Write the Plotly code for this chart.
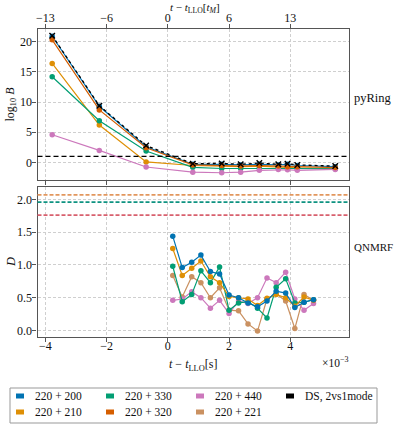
import plotly.graph_objects as go

W, H = 400, 425

# ---------------- data ----------------
# time since t_LLO in units of 1e-3 s
x_top = [-3.78, -2.24, -0.71, 0.815, 1.76, 2.38, 2.99, 3.61, 3.91, 4.23, 5.47]
top_200 = [20.9, 9.3, 2.6, -0.3, -0.3, -0.4, -0.3, -0.4, -0.3, -0.5, -0.7]
top_210 = [16.4, 6.2, 0.1, -0.5, -0.6, -0.7, -0.6, -0.8, -0.8, -0.9, -1.0]
top_330 = [14.2, 6.9, 1.9, -0.8, -1.0, -1.0, -0.9, -0.9, -0.9, -1.0, -1.05]
top_320 = [20.3, 8.7, 2.45, -0.4, -0.5, -0.6, -0.5, -0.6, -0.7, -0.7, -0.85]
top_440 = [4.6, 2.0, -0.75, -1.6, -1.7, -1.6, -1.3, -1.15, -1.2, -1.3, -1.15]
top_ds = [21.0, 9.4, 2.8, -0.2, -0.15, -0.3, -0.1, -0.3, -0.2, -0.4, -0.6]
bayes_threshold = 1.0

x_bot = [0.16, 0.47, 0.78, 1.08, 1.39, 1.69, 2.00, 2.31, 2.62, 2.93, 3.24, 3.54, 3.85, 4.15, 4.45, 4.76]
bot_200 = [1.44, 0.96, 1.04, 1.15, 0.90, 0.86, 0.54, 0.50, 0.42, 0.36, 0.45, 0.60, 0.57, 0.35, 0.43, 0.47]
bot_210 = [1.25, 0.84, 0.95, 1.06, 0.82, 0.73, 0.52, 0.50, 0.48, 0.38, 0.49, 0.55, 0.50, 0.37, 0.51, 0.46]
bot_330 = [0.98, 0.44, 0.55, 0.91, 0.73, 0.97, 0.31, 0.42, 0.44, 0.34, 0.19, 0.66, 0.79, 0.42, 0.43, 0.47]
bot_440 = [0.46, 0.48, 0.59, 0.50, 0.34, 0.46, 0.26, 0.45, 0.41, 0.50, 0.80, 0.73, 0.89, 0.48, 0.31, 0.41]
bot_221 = [0.84, 0.51, 0.82, 0.73, 0.50, 0.65, 0.31, 0.30, 0.10, -0.01, 0.48, 0.56, 0.45, 0.03, 0.55, 0.46]

# significance thresholds (horizontal dashed lines, bottom panel)
d_thresholds = [2.07, 1.96, 1.76]
d_threshold_colors = ["#E2975E", "#0E9381", "#D8606E"]

tick_vals = [-4, -2, 0, 2, 4]
tick_text_bottom = ["\u22124", "\u22122", "0", "2", "4"]
tick_text_top = ["\u221213", "\u22126", "0", "6", "13"]
ytick_top = [0, 5, 10, 15, 20]
ytick_bot = [0.0, 0.5, 1.0, 1.5, 2.0]

legend_labels = ["220 + 200", "220 + 210", "220 + 330", "220 + 320",
                 "220 + 440", "220 + 221", "DS, 2vs1mode"]
C = {"200": "#0173B2", "210": "#DE8F05", "330": "#029E73", "320": "#D55E00",
     "440": "#CC78BC", "221": "#CA9161", "ds": "#000000"}
legend_colors = [C["200"], C["210"], C["330"], C["320"], C["440"], C["221"], C["ds"]]

FONT = "Liberation Serif"

# ---------------- geometry (pixels) ----------------
PL, PR = 37.5, 349.0
TOP_T, TOP_B = 29.0, 180.0
BOT_T, BOT_B = 187.0, 337.0


def px(x):
    return x / W


def py(y):
    return 1 - y / H


fig = go.Figure()


def add_series(x, y, color, xa, ya, ds=False):
    if ds:
        fig.add_trace(go.Scatter(
            x=x, y=y, mode="lines+markers", xaxis=xa, yaxis=ya, showlegend=False,
            line=dict(color=color, width=1.3, dash="dot"),
            marker=dict(symbol="x-thin", size=5.5, color=color,
                        line=dict(color=color, width=1.4))))
    else:
        fig.add_trace(go.Scatter(
            x=x, y=y, mode="lines+markers", xaxis=xa, yaxis=ya, showlegend=False,
            line=dict(color=color, width=1.2),
            marker=dict(symbol="circle", size=5.5, color=color)))


# top panel
add_series(x_top, top_200, C["200"], "x", "y")
add_series(x_top, top_210, C["210"], "x", "y")
add_series(x_top, top_330, C["330"], "x", "y")
add_series(x_top, top_440, C["440"], "x", "y")
add_series(x_top, top_320, C["320"], "x", "y")
add_series(x_top, top_ds, C["ds"], "x", "y", ds=True)

# bottom panel
add_series(x_bot, bot_221, C["221"], "x2", "y2")
add_series(x_bot, bot_440, C["440"], "x2", "y2")
add_series(x_bot, bot_330, C["330"], "x2", "y2")
add_series(x_bot, bot_210, C["210"], "x2", "y2")
add_series(x_bot, bot_200, C["200"], "x2", "y2")

shapes = []
# threshold in top panel
shapes.append(dict(type="line", xref="x domain", yref="y", x0=0, x1=1,
                   y0=bayes_threshold, y1=bayes_threshold,
                   line=dict(color="black", width=1.3, dash="5px,3px"), layer="above"))
for yv, col in zip(d_thresholds, d_threshold_colors):
    shapes.append(dict(type="line", xref="x2 domain", yref="y2", x0=0, x1=1,
                       y0=yv, y1=yv, line=dict(color=col, width=1.8, dash="4px,2px"),
                       layer="above"))

# legend box
LX0, LY0, LX1, LY1 = 10, 388, 377, 423
shapes.append(dict(type="rect", xref="paper", yref="paper",
                   x0=px(LX0), x1=px(LX1), y0=py(LY1), y1=py(LY0),
                   line=dict(color="#999999", width=1), fillcolor="white"))

annotations = []
col_sym_x = [20, 110, 200, 290]
row_y = [396, 412]
for i, (lab, col) in enumerate(zip(legend_labels, legend_colors)):
    c, r = divmod(i, 2)
    sx, sy = col_sym_x[c], row_y[r]
    shapes.append(dict(type="line", xref="paper", yref="paper",
                       xsizemode="pixel", ysizemode="pixel",
                       xanchor=px(sx), yanchor=py(sy),
                       x0=-4, x1=4, y0=0, y1=0,
                       line=dict(color=col, width=5)))
    annotations.append(dict(x=px(sx + 13), y=py(sy), xref="paper", yref="paper",
                            text=lab, showarrow=False, xanchor="left", yanchor="middle",
                            font=dict(family=FONT, size=11.5, color="#111")))

# axis titles and panel labels
annotations += [
    dict(x=px((PL + PR) / 2 + 2), y=py(0), text="<i>t</i> \u2212 <i>t</i><sub>LLO</sub>[<i>t<sub>M</sub></i>]",
         xref="paper", yref="paper", showarrow=False, xanchor="center", yanchor="top",
         borderpad=0, font=dict(family=FONT, size=11, color="#111")),
    dict(x=px((PL + PR) / 2), y=py(365), text="<i>t</i> \u2212 <i>t</i><sub>LLO</sub>[s]",
         xref="paper", yref="paper", showarrow=False, xanchor="center", yanchor="middle",
         font=dict(family=FONT, size=12, color="#111")),
    dict(x=px(PR + 2), y=py(362), text="\u00d710<sup>\u22123</sup>",
         xref="paper", yref="paper", showarrow=False, xanchor="right", yanchor="middle",
         font=dict(family=FONT, size=11.5, color="#111")),
    dict(x=px(11), y=py((TOP_T + TOP_B) / 2), text="log<sub>10</sub> <i>B</i>",
         xref="paper", yref="paper", showarrow=False, textangle=-90,
         xanchor="center", yanchor="middle", font=dict(family=FONT, size=12, color="#111")),
    dict(x=px(11), y=py((BOT_T + BOT_B) / 2), text="<i>D</i>",
         xref="paper", yref="paper", showarrow=False, textangle=-90,
         xanchor="center", yanchor="middle", font=dict(family=FONT, size=12.5, color="#111")),
    dict(x=px(352), y=py(98), text="pyRing", xref="paper", yref="paper", showarrow=False,
         xanchor="left", yanchor="middle", font=dict(family=FONT, size=12.5, color="#111")),
    dict(x=px(352), y=py(247), text="QNMRF", xref="paper", yref="paper", showarrow=False,
         xanchor="left", yanchor="middle", font=dict(family=FONT, size=11, color="#111")),
]

AX = dict(showline=True, linecolor="#555555", linewidth=1.2, ticks="outside",
          ticklen=4, tickwidth=1, tickcolor="#555555", showgrid=True,
          gridcolor="#cfcfcf", gridwidth=0.8, griddash="3px,2px", zeroline=False,
          tickfont=dict(family=FONT, size=12, color="#111"), automargin=False)

XR = [-4.26, 5.92]
fig.update_layout(
    width=W, height=H, margin=dict(l=0, r=0, t=0, b=0),
    paper_bgcolor="white", plot_bgcolor="white", showlegend=False,
    xaxis=dict(AX, domain=[px(PL), px(PR)], anchor="y", side="top", range=XR,
               tickvals=tick_vals, ticktext=tick_text_top, mirror="ticks",
               ticklabelstandoff=-3),
    yaxis=dict(AX, domain=[py(TOP_B), py(TOP_T)], anchor="x", range=[-2.9, 22.1],
               tickvals=ytick_top, ticktext=[str(v) for v in ytick_top], mirror=True,
               ticklabelstandoff=-2),
    xaxis2=dict(AX, domain=[px(PL), px(PR)], anchor="y2", side="bottom", range=XR,
                tickvals=tick_vals, ticktext=tick_text_bottom, mirror=True,
                ticklabelstandoff=-7),
    yaxis2=dict(AX, domain=[py(BOT_B), py(BOT_T)], anchor="x2", range=[-0.10, 2.19],
                tickvals=ytick_bot, ticktext=[f"{v:.1f}" for v in ytick_bot], mirror=True,
                ticklabelstandoff=-2),
    shapes=shapes, annotations=annotations,
)

fig.write_html("out.html")
